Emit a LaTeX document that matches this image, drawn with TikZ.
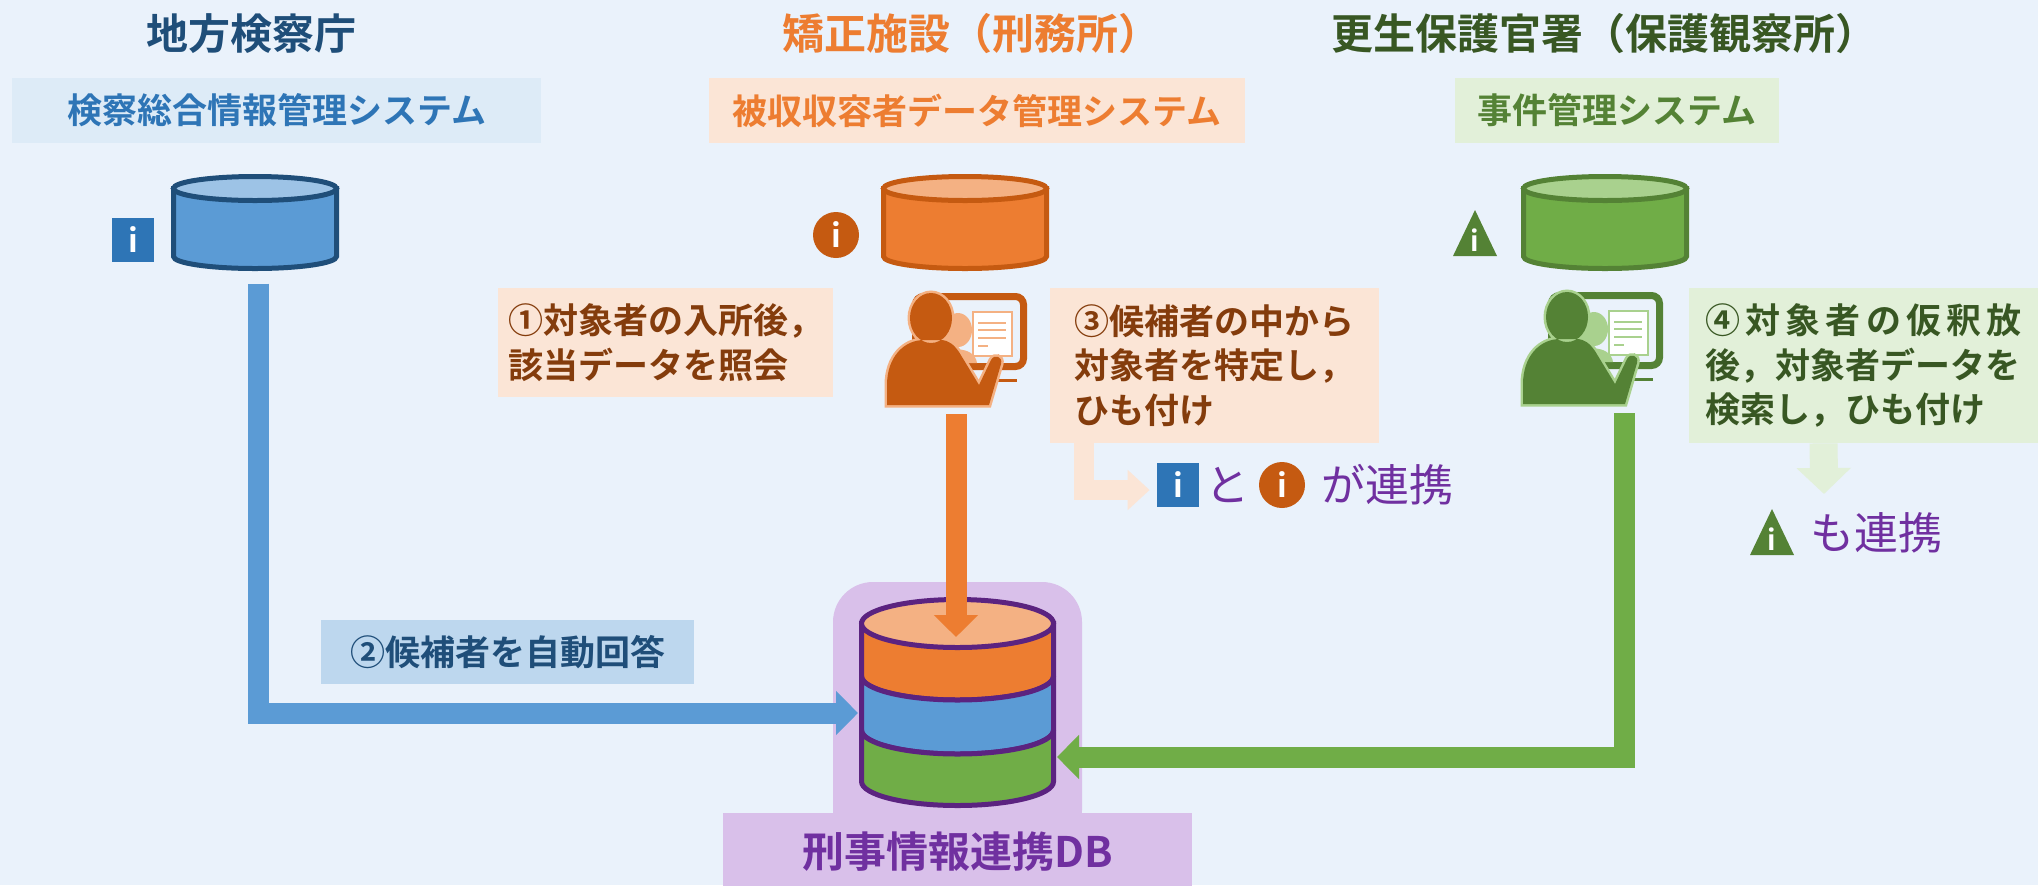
\documentclass[tikz,border=0pt]{standalone}
\usepackage{fontspec}
\setmainfont{Noto Sans CJK JP}[BoldFont={* Bold}]
\usetikzlibrary{arrows.meta}

\definecolor{bgblue}{HTML}{EAF2FB}
\definecolor{kblue}{HTML}{1F4E79}
\definecolor{mblue}{HTML}{2E75B6}
\definecolor{fblue}{HTML}{5B9BD5}
\definecolor{tblue}{HTML}{9DC3E6}
\definecolor{lblue}{HTML}{DDEBF7}
\definecolor{sblue}{HTML}{BDD7EE}
\definecolor{korange}{HTML}{C55A11}
\definecolor{forange}{HTML}{ED7D31}
\definecolor{torange}{HTML}{F4B183}
\definecolor{lorange}{HTML}{FBE5D6}
\definecolor{borange}{HTML}{843C0C}
\definecolor{kgreen}{HTML}{548235}
\definecolor{dgreen}{HTML}{385723}
\definecolor{fgreen}{HTML}{70AD47}
\definecolor{tgreen}{HTML}{A9D18E}
\definecolor{lgreen}{HTML}{E2F0D9}
\definecolor{dbpurple}{HTML}{5B2380}
\definecolor{tpurple}{HTML}{7030A0}
\definecolor{lpurple}{HTML}{D9C0EA}

\tikzset{
  title/.style={inner sep=0pt, font=\bfseries\fontsize{21}{25}\selectfont},
  sysbox/.style={minimum height=32.5pt, inner sep=0pt, font=\bfseries\fontsize{17.5}{21}\selectfont},
  stepbox/.style={align=left, inner sep=0pt, font=\bfseries\fontsize{17.5}{22.25}\selectfont},
  renkei/.style={inner sep=0pt, text=tpurple, font=\fontsize{22}{24}\selectfont},
  pipe/.style={line width=10.5pt, line join=miter, -{Triangle[width=21.5pt,length=11pt]}},
  softpipe/.style={line width=10pt, line join=miter, -{Triangle[width=19.5pt,length=11pt]}},
  infosq/.style={fill=mblue, text=white, minimum width=21pt, minimum height=22pt, inner sep=0pt,
    font=\bfseries\fontsize{16}{16}\selectfont},
  infoci/.style={circle, fill=korange, text=white, minimum size=23pt, inner sep=0pt,
    font=\bfseries\fontsize{16}{16}\selectfont},
  pics/infotri/.style={code={
    \fill[kgreen] (-22,23) -- (0,-23) -- (22,23) -- cycle;
    \node[text=white, inner sep=0pt, font=\bfseries\fontsize{14}{14}\selectfont] (-i) at (0,7) {i};
  }},
  pics/can/.style n args={3}{code={
    \filldraw[fill=#1, draw=#3, line width=2.5pt] (-81.5,0) -- (-81.5,68)
      arc[start angle=180, end angle=360, x radius=40.75pt, y radius=6pt] -- (81.5,0) -- cycle;
    \filldraw[fill=#2, draw=#3, line width=2.5pt] (0,0) ellipse [x radius=40.75pt, y radius=6pt];
    \coordinate (-bot) at (0,95);
  }},
  pics/operator/.style 2 args={code={
    \draw[#1, line width=3.5pt, rounded corners=4pt] (3.5,3.5) rectangle (111.5,73.5);
    \draw[#1, line width=1.5pt] (80,87) -- (105,87);
    \fill[#2] (46,37) ellipse [x radius=7pt, y radius=8.5pt];
    \fill[#2] (27,70) .. controls (29,52) and (63,52) .. (65,70) -- cycle;
    \draw[#2, fill=white, line width=1pt] (61,19) rectangle (100,63);
    \draw[#2, line width=1pt] (66,30) -- (94,30) (66,37) -- (94,37) (66,45) -- (94,45) (66,53) -- (76,53);
    \fill[#1, preaction={draw=#2, line width=2.5pt}]
      (19,25) ellipse [x radius=10.5pt, y radius=12.5pt]
      (-25,112) -- (-25,92) .. controls (-25,64) and (-8,47) .. (12,47) -- (28,47)
      .. controls (37,47) and (42,52) .. (47,59) -- (67,92) -- (79,67)
      .. controls (82,61) and (91,63) .. (89,71) -- (77,112) -- cycle;
  }}
}

\begin{document}
\begin{tikzpicture}[x=0.5pt, y=-0.5pt]
\useasboundingbox (0,0) rectangle (2038,885);
\clip (0,0) rectangle (2038,885);
\fill[bgblue] (0,0) rectangle (2038,885);

% agencies and their systems
\node[title, text=kblue] (kensatsu) at (251,34) {地方検察庁};
\node[title, text=forange] (kyosei) at (971,34) {矯正施設（刑務所）};
\node[title, text=dgreen] (hogo) at (1604,34) {更生保護官署（保護観察所）};

\node[sysbox, fill=lblue, text=mblue, minimum width=264.5pt] (ksys) at (276.5,110.5) {検察総合情報管理システム};
\node[sysbox, fill=lorange, text=forange, minimum width=268pt] (tsys) at (977,110.5) {被収収容者データ管理システム};
\node[sysbox, fill=lgreen, text=kgreen, minimum width=162pt] (hsys) at (1617,110.5) {事件管理システム};

\pic (kdb) at (255,188.5) {can={fblue}{tblue}{kblue}};
\pic (tdb) at (965,188.5) {can={forange}{torange}{korange}};
\pic (hdb) at (1605,188.5) {can={fgreen}{tgreen}{kgreen}};

\node[infosq] (ki) at (133,239.5) {i};
\node[infoci] (ti) at (836,235) {i};
\pic (hi) at (1475,233) {infotri};

\pic at (912,293) {operator={korange}{torange}};
\pic at (1548,292) {operator={kgreen}{tgreen}};
\coordinate (top-bot) at (956,414);
\coordinate (hop-bot) at (1624,413);

% steps
\node[stepbox, fill=lorange, text=borange, minimum width=167.5pt, minimum height=54.5pt] (step1) at (665.5,342.5)
  {①対象者の入所後，\\該当データを照会};
\node[stepbox, fill=sblue, text=kblue, minimum width=186.5pt, minimum height=32pt] (step2) at (507.5,652)
  {②候補者を自動回答};
\node[stepbox, fill=lorange, text=borange, minimum width=164.5pt, minimum height=77.5pt] (step3) at (1214.5,365.5)
  {③候補者の中から\\対象者を特定し，\\ひも付け};
\node[stepbox, fill=lgreen, text=dgreen, minimum width=174.5pt, minimum height=77.5pt] (step4) at (1863.5,365.5)
  {{\addfontfeature{LetterSpace=15}④対象者の仮釈放}\\後，対象者データを\\検索し，ひも付け};

% linked ids
\node[infosq] (ki2) at (1178,485) {i};
\node[renkei] (to) at (1227,485) {と};
\node[infoci] (ti2) at (1282,485) {i};
\node[renkei, anchor=west] (ga) at (1321,485) {が連携};
\pic (hi2) at (1772,532) {infotri};
\node[renkei, anchor=west] (mo) at (1810,533) {も連携};
\coordinate (renkei2) at (1824,494);

\draw[softpipe, lorange] ([xshift=17pt]step3.south west) |- ([xshift=-3.5pt, yshift=-2.5pt]ki2.west);
\draw[lgreen, line width=14pt, -{Triangle[width=26.5pt,length=13pt]}] ([xshift=67.5pt]step4.south west) -- (renkei2);

% shared database
\fill[lpurple, rounded corners=20pt] (833,582) rectangle (1082,850);
\node[fill=lpurple, text=tpurple, minimum width=234.5pt, minimum height=39pt, inner sep=0pt,
  font=\bfseries\fontsize{21}{25}\selectfont] (dbname) at (957.5,852) {刑事情報連携DB};

\begin{scope}[shift={(957.5,623.5)}, line width=2.5pt, draw=dbpurple]
  \filldraw[fill=forange] (-96,0) -- (-96,52.5) arc[start angle=180, end angle=360, x radius=48pt, y radius=12pt]
    -- (96,0) -- cycle;
  \filldraw[fill=fblue] (-96,52.5) -- (-96,106.5) arc[start angle=180, end angle=360, x radius=48pt, y radius=12pt]
    -- (96,52.5) arc[start angle=0, end angle=-180, x radius=48pt, y radius=12pt] -- cycle;
  \filldraw[fill=fgreen] (-96,106.5) -- (-96,158) arc[start angle=180, end angle=360, x radius=48pt, y radius=12pt]
    -- (96,106.5) arc[start angle=0, end angle=-180, x radius=48pt, y radius=12pt] -- cycle;
  \filldraw[fill=torange] (0,0) ellipse [x radius=48pt, y radius=12pt];
\end{scope}
\coordinate (db-o) at (956,637);
\coordinate (db-b) at (858,713);
\coordinate (db-g) at (1057,757);

\draw[pipe, fblue] ([xshift=1.5pt]kdb-bot) |- (db-b);
\draw[pipe, forange] (top-bot) -- (db-o);
\draw[pipe, fgreen] (hop-bot) |- (db-g);
\end{tikzpicture}
\end{document}
